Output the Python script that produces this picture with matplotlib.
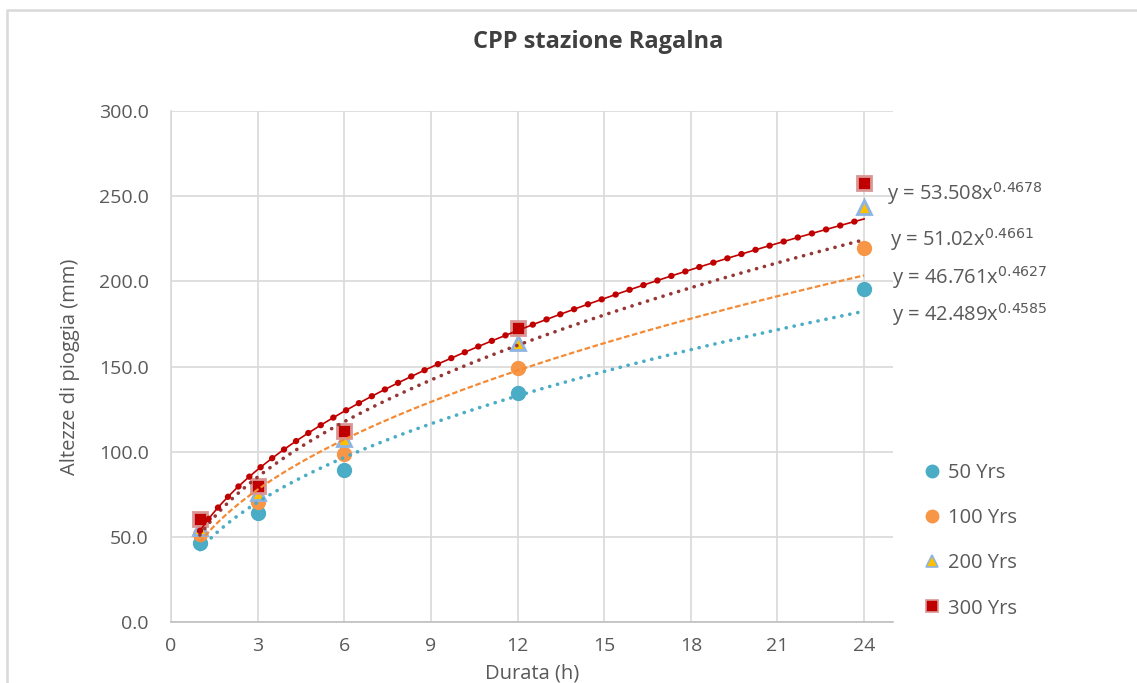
import matplotlib
matplotlib.use("Agg")
import matplotlib.pyplot as plt
import numpy as np
from matplotlib.lines import Line2D
from matplotlib.patches import Rectangle

plt.rcParams['font.family'] = ['Open Sans', 'DejaVu Sans']

# ---- data ----
durations = [1, 3, 6, 12, 24]
series_names = ["50 Yrs", "100 Yrs", "200 Yrs", "300 Yrs"]
h_50 = [46.5, 63.8, 89.2, 134.4, 195.5]
h_100 = [51.4, 70.6, 98.5, 149.4, 219.6]
h_200 = [54.9, 75.9, 107.3, 163.8, 243.8]
h_300 = [60.2, 79.8, 112.2, 172.6, 257.9]
fit_a = [42.489, 46.761, 51.02, 53.508]
fit_b = [0.4585, 0.4627, 0.4661, 0.4678]
fit_a_labels = ["42.489", "46.761", "51.02", "53.508"]
fit_b_labels = ["0.4585", "0.4627", "0.4661", "0.4678"]
x_ticks = [0, 3, 6, 9, 12, 15, 18, 21, 24]
y_ticks = [0, 50, 100, 150, 200, 250, 300]

W, H = 1137, 683
fig = plt.figure(figsize=(W / 100, H / 100), dpi=100)
fig.patch.set_facecolor("white")

# outer chart border (left and top visible)
fig.patches.append(Rectangle((7 / W, -0.1), 1.2, 1 - 10 / H + 0.1, transform=fig.transFigure,
                             fill=False, edgecolor="#D9D9D9", lw=1.8, zorder=0))

ax = fig.add_axes([171 / W, 1 - 622 / H, (893 - 171) / W, (622 - 111) / H])
ax.set_xlim(0, 25)
ax.set_ylim(0, 300)
ax.set_xticks(x_ticks)
ax.set_yticks(y_ticks)
ax.set_yticklabels([f"{v:.1f}" for v in y_ticks])
ax.grid(True, color="#D9D9D9", lw=1.2)
ax.set_axisbelow(True)
for s in ["top", "right"]:
    ax.spines[s].set_visible(False)
ax.spines["left"].set_color("#D9D9D9")
ax.spines["left"].set_linewidth(1.2)
ax.spines["bottom"].set_color("#BFBFBF")
ax.spines["bottom"].set_linewidth(1.2)
ax.tick_params(length=0, labelsize=14, colors="#595959")
ax.tick_params(axis="y", pad=16)
ax.tick_params(axis="x", pad=11)

ax.set_ylabel("Altezze di pioggia (mm)", fontsize=14.5, color="#595959")
ax.set_xlabel("Durata (h)", fontsize=14.5, color="#595959")
ax.yaxis.set_label_coords((70 - 171) / (893 - 171), 0.5)
ax.xaxis.set_label_coords(0.5, (622 - 673) / (622 - 111))
ax.xaxis.label.set_va("center")
ax.yaxis.label.set_va("center")
fig.text(598 / W, 1 - 42 / H, "CPP stazione Ragalna", ha="center", va="center",
         fontsize=17, fontweight="bold", color="#404040")

# markers
c50, c100, c200, c300 = "#4BACC6", "#F79646", "#FFC000", "#C00000"
ax.plot(durations, h_50, ls="none", marker="o", ms=10, mfc=c50, mec=c50, zorder=3)
ax.plot(durations, h_100, ls="none", marker="o", ms=10, mfc=c100, mec=c100, zorder=3)
ax.plot(durations, h_200, ls="none", marker="^", ms=10, mfc=c200, mec="#8EB4E3", mew=2, zorder=3)
ax.plot(durations, h_300, ls="none", marker="s", ms=9.5, mfc=c300, mec="#D99694", mew=2, zorder=3)

# trendlines
xt = np.linspace(1, 24, 300)
def fit(i):
    return fit_a[i] * xt ** fit_b[i]

ax.plot(xt, fit(0), color=c50, lw=2.6, ls=(0, (0.05, 2.2)), dash_capstyle="round", zorder=4)
ax.plot(xt, fit(1), color="#F58A35", lw=1.6, ls=(0, (2.5, 1.2)), zorder=4)
ax.plot(xt, fit(2), color="#953735", lw=2.6, ls=(0, (0.05, 2.2)), dash_capstyle="round", zorder=4)
ax.plot(xt, fit(3), color=c300, lw=1.2, ls="-", zorder=4)
ax.plot(xt, fit(3), color=c300, lw=4.5, ls=(0, (0.05, 2.3)), dash_capstyle="round", zorder=4)

# equation labels
eq_y = [315, 278, 240, 194]
eq_x = [892, 892, 890, 887]
for i in range(4):
    fig.text(eq_x[i] / W, 1 - eq_y[i] / H,
             f"y = {fit_a_labels[i]}x$^{{{fit_b_labels[i]}}}$",
             ha="left", va="center", fontsize=14.5, color="#595959")

# legend
handles = [
    Line2D([], [], ls="none", marker="o", ms=9, mfc=c50, mec=c50),
    Line2D([], [], ls="none", marker="o", ms=9, mfc=c100, mec=c100),
    Line2D([], [], ls="none", marker="^", ms=9, mfc=c200, mec="#8EB4E3", mew=1.2),
    Line2D([], [], ls="none", marker="s", ms=8, mfc=c300, mec="#D99694", mew=1.2),
]
leg = fig.legend(handles, series_names, loc="upper left",
                 bbox_to_anchor=(925 / W, 1 - 463 / H), frameon=False,
                 fontsize=14.5, labelspacing=1.25, handlelength=0.7, handletextpad=0.45,
                 borderaxespad=0, borderpad=0)
for t in leg.get_texts():
    t.set_color("#595959")

fig.savefig("out.png", dpi=100, facecolor="white")
